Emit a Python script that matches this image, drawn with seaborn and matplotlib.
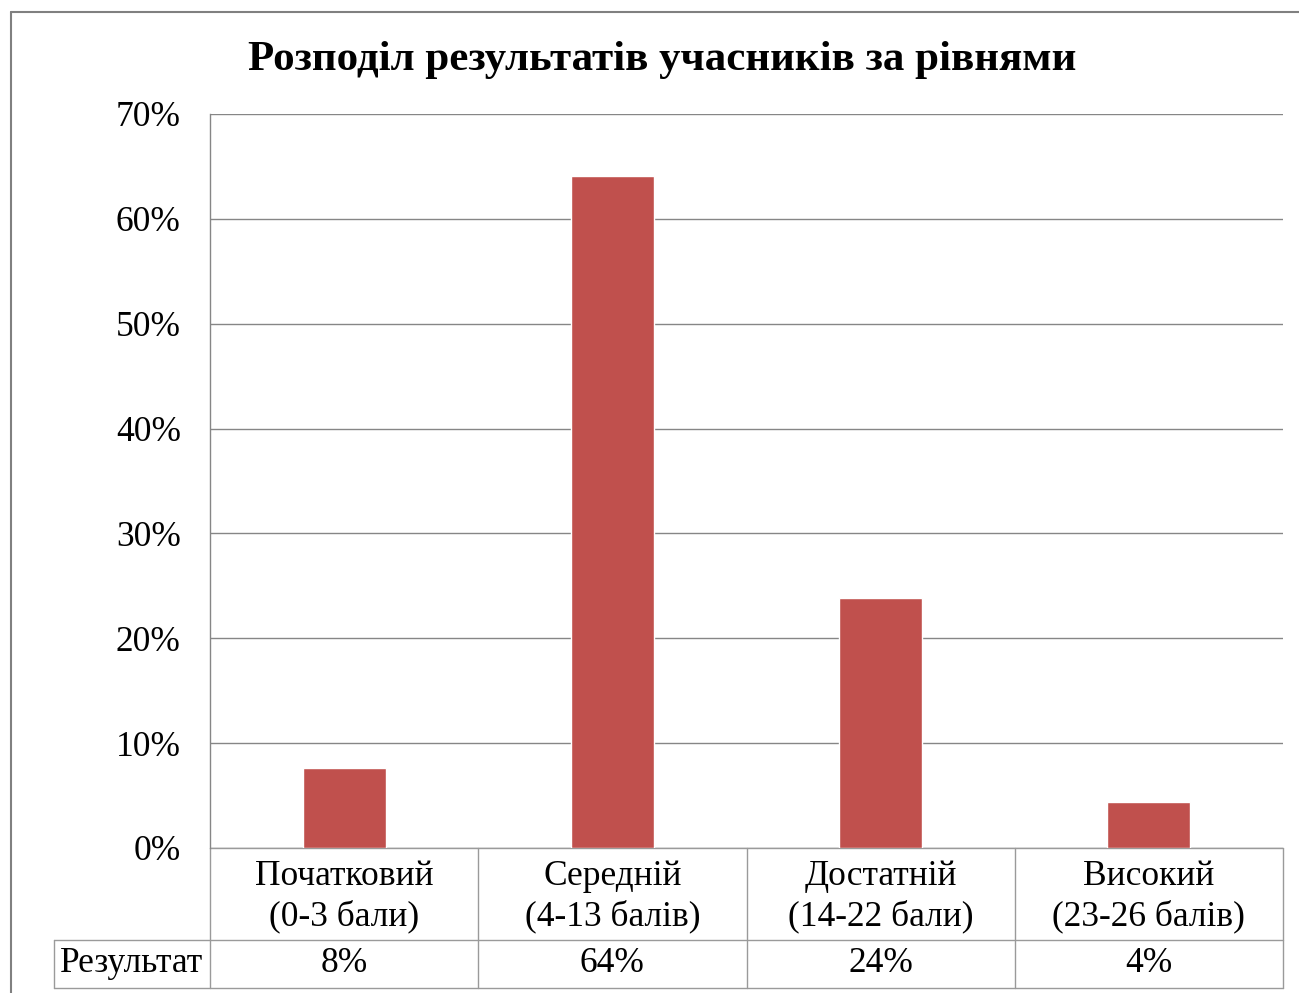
import matplotlib
matplotlib.use("Agg")
import matplotlib.pyplot as plt
import seaborn as sns
import pandas as pd
from matplotlib.lines import Line2D

# дані з діаграми
levels = ["Початковий\n(0-3 бали)", "Середній\n(4-13 балів)",
          "Достатній\n(14-22 бали)", "Високий\n(23-26 балів)"]
shares = [7.6, 64.1, 23.8, 4.4]
table_values = ["8%", "64%", "24%", "4%"]
row_label = "Результат"
title = "Розподіл результатів учасників за рівнями"
y_ticks = [0, 10, 20, 30, 40, 50, 60, 70]

sns.set_theme(style="white")
plt.rcParams["font.family"] = ["Liberation Serif", "DejaVu Serif"]
plt.rcParams["text.color"] = "black"
plt.rcParams["ytick.color"] = "black"

W, H = 1299, 993
fs = 25.5
fig = plt.figure(figsize=(W / 100, H / 100), dpi=100)
fig.patch.set_facecolor("white")

# область побудови (у пікселях оригіналу)
x0, x1, y_top, y_bot = 210, 1283, 114, 848
ax = fig.add_axes([x0 / W, (H - y_bot) / H, (x1 - x0) / W, (y_bot - y_top) / H])

df = pd.DataFrame({"level": levels, "share": shares})
sns.barplot(data=df, x="level", y="share", color="#C0504D", saturation=1,
            width=0.31, ax=ax, zorder=3)

ax.set_ylim(0, 70)
ax.set_xlim(-0.5, len(levels) - 0.5)
ax.set_yticks(y_ticks)
ax.set_yticklabels([f"{t}%" for t in y_ticks], fontsize=fs, color="black")
ax.tick_params(axis="y", length=0, pad=21)
ax.set_xticks([])
ax.set_xlabel("")
ax.set_ylabel("")
for t in y_ticks:
    ax.axhline(t, color="#868686", lw=1.0, zorder=1)
for s in ["top", "right", "bottom"]:
    ax.spines[s].set_visible(False)
ax.spines["left"].set_color("#868686")
ax.spines["left"].set_linewidth(1.0)

# таблиця даних під віссю
ph = y_bot - y_top
pw = x1 - x0
r1 = -(940 - y_bot) / ph
r2 = -(988 - y_bot) / ph
left = -(x0 - 54) / pw
lc = "#9a9a9a"
lkw = dict(color=lc, lw=1.0, transform=ax.transAxes, clip_on=False)
ax.add_line(Line2D([0, 1], [0, 0], **lkw))
ax.add_line(Line2D([left, 1], [r1, r1], **lkw))
ax.add_line(Line2D([left, 1], [r2, r2], **lkw))
ax.add_line(Line2D([left, left], [r1, r2], **lkw))
for i in range(len(levels) + 1):
    xi = i / len(levels)
    ax.add_line(Line2D([xi, xi], [0, r2], **lkw))

for i, (lab, val) in enumerate(zip(levels, table_values)):
    xc = (i + 0.5) / len(levels)
    ax.text(xc, r1 / 2 - 3 / ph, lab, transform=ax.transAxes, ha="center",
            va="center", fontsize=fs, linespacing=1.27)
    ax.text(xc, (r1 + r2) / 2, val, transform=ax.transAxes, ha="center",
            va="center", fontsize=fs)
ax.text((left + 0) / 2, (r1 + r2) / 2, row_label, transform=ax.transAxes,
        ha="center", va="center", fontsize=fs)

fig.text(662 / W, 1 - 60 / H, title, ha="center", va="center",
         fontsize=31, fontweight="bold", color="black")

# зовнішня рамка діаграми
fkw = dict(color="#808080", lw=1.5, transform=fig.transFigure)
fig.add_artist(Line2D([11 / W, 11 / W], [0, 1 - 12 / H], **fkw))
fig.add_artist(Line2D([11 / W, 1], [1 - 12 / H, 1 - 12 / H], **fkw))

fig.savefig("out.png", dpi=100, facecolor="white")
